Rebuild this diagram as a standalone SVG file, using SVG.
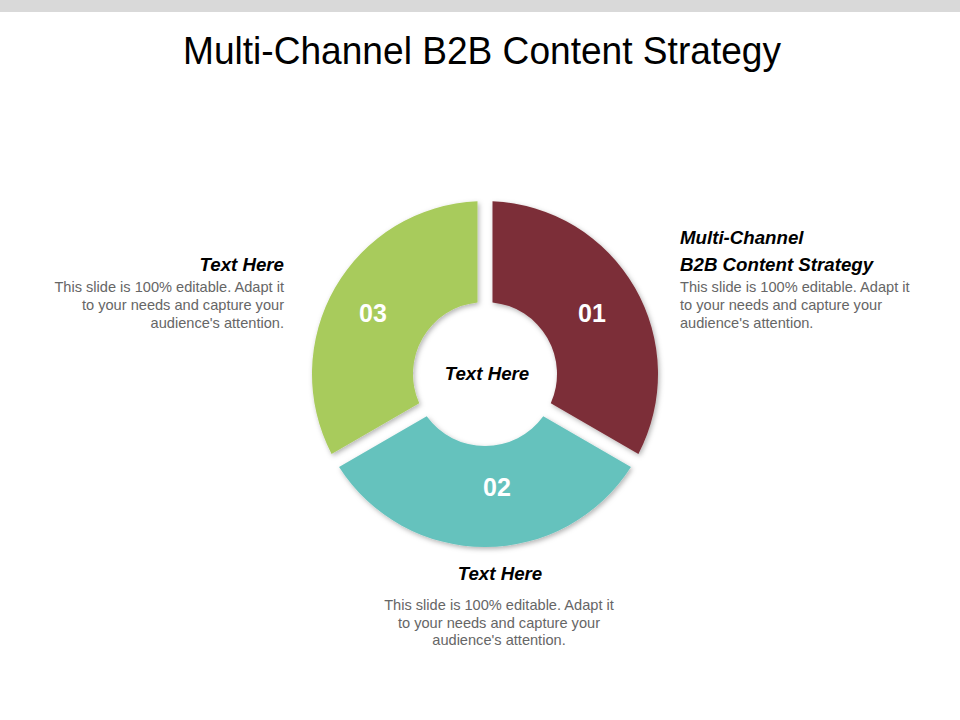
<svg xmlns="http://www.w3.org/2000/svg" width="960" height="720" viewBox="0 0 960 720">
  <style>
    .title { font-family: "Liberation Sans", Arial, sans-serif; font-size: 39px; fill: #000; }
    .head { font-family: "Liberation Sans", Arial, sans-serif; font-size: 18.7px; font-weight: bold; font-style: italic; fill: #000; }
    .body { font-family: "Liberation Sans", Arial, sans-serif; font-size: 14.6px; fill: #666; }
    .num { font-family: "Liberation Sans", Arial, sans-serif; font-size: 25px; font-weight: bold; fill: #fff; text-anchor: middle; }
    .seg { filter: url(#sh); }
  </style>
  <defs>
    <filter id="sh" x="-20%" y="-20%" width="140%" height="140%">
      <feDropShadow dx="1.5" dy="2" stdDeviation="2.5" flood-color="#000" flood-opacity="0.3"/>
    </filter>
  </defs>
  <rect x="0" y="0" width="960" height="12" fill="#d9d9d9"/>
  <text class="title" x="482" y="64" text-anchor="middle" textLength="598" lengthAdjust="spacingAndGlyphs">Multi-Channel B2B Content Strategy</text>

  <g id="seg01">
    <path class="seg" d="M 492.5,201.16 A 173 173 0 0 1 638.43,453.93 L 550.77,403.31 A 72 72 0 0 0 492.5,302.39 Z" fill="#7c2f38"/>
    <text class="num" x="592" y="322">01</text>
  </g>
  <g id="seg02">
    <path class="seg" d="M 630.93,466.92 A 173 173 0 0 1 339.07,466.92 L 426.73,416.3 A 72 72 0 0 0 543.27,416.3 Z" fill="#65c2bd"/>
    <text class="num" x="497" y="496">02</text>
  </g>
  <g id="seg03">
    <path class="seg" d="M 331.57,453.93 A 173 173 0 0 1 477.5,201.16 L 477.5,302.39 A 72 72 0 0 0 419.23,403.31 Z" fill="#a8cb5b"/>
    <text class="num" x="373" y="322">03</text>
  </g>
  <g id="center">
    <text class="head" x="487" y="380" text-anchor="middle">Text Here</text>
  </g>

  <g id="text01">
    <text class="head" x="680" y="244">Multi-Channel</text>
    <text class="head" x="680" y="271">B2B Content Strategy</text>
    <text class="body" x="680" y="292">This slide is 100% editable.  Adapt it</text>
    <text class="body" x="680" y="310">to your needs and capture your</text>
    <text class="body" x="680" y="328">audience's attention.</text>
  </g>
  <g id="text03" text-anchor="end">
    <text class="head" x="284" y="271">Text Here</text>
    <text class="body" x="284" y="292">This slide is 100% editable.  Adapt it</text>
    <text class="body" x="284" y="310">to your needs and capture your</text>
    <text class="body" x="284" y="328">audience's attention.</text>
  </g>
  <g id="text02" text-anchor="middle">
    <text class="head" x="500" y="580">Text Here</text>
    <text class="body" x="499" y="610">This slide is 100% editable.  Adapt it</text>
    <text class="body" x="499" y="628">to your needs and capture your</text>
    <text class="body" x="499" y="645">audience's attention.</text>
  </g>
  <g id="connectors"/>
</svg>
